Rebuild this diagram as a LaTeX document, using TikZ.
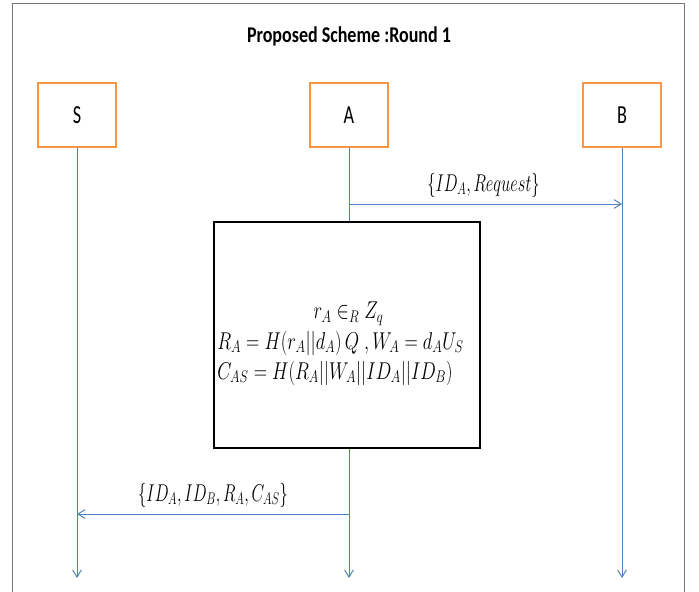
\documentclass[tikz,border=0pt]{standalone}
\usepackage{fontspec}
\setmainfont{Carlito}
\usepackage{amsmath}
\usepackage{graphicx}
\usepackage{tikz}
\usetikzlibrary{arrows.meta, positioning, calc}

\definecolor{boxorange}{RGB}{247,150,70}
\definecolor{lineblue}{RGB}{79,129,189}
\definecolor{framegray}{RGB}{120,120,120}

% narrow, tall lettering as in the reference
\newcommand{\narrow}[2]{\scalebox{#1}[1]{#2}}

\tikzset{
    party/.style={draw=boxorange, line width=1.4pt, fill=white, minimum width=1.95cm, minimum height=1.6cm, font=\fontsize{18.5}{20}\selectfont},
    lifeline/.style={draw=lineblue, line width=0.7pt, -{Straight Barb[length=1.8mm, width=2.2mm]}},
    msg/.style={draw=lineblue, line width=0.7pt, -{Straight Barb[length=1.8mm, width=2.2mm]}},
    calcbox/.style={draw=black, line width=1.6pt, fill=white, minimum width=6.65cm, minimum height=5.65cm},
    calctext/.style={inner sep=0pt, font=\fontsize{17.5}{21.5}\selectfont},
    msglabel/.style={font=\fontsize{16.5}{18}\selectfont}
}

\begin{document}
\begin{tikzpicture}[x=0.025cm, y=-0.025cm]
        \useasboundingbox (0,0) rectangle (699,592);
        % outer frame
        \draw[framegray, line width=0.6pt] (12,592) -- (12,3) -- (684,3) -- (684,592);
        \node[font=\bfseries\fontsize{16}{18}\selectfont] (title) at (349,36) {\narrow{0.8}{Proposed Scheme :Round 1}};

        % parties and lifelines
        \foreach \name/\x in {S/77, A/349, B/622} {
            \node[party] (\name) at (\x,115) {\narrow{0.7}{\name}};
            \coordinate (\name end) at (\x,578);
            \path[lifeline] (\name) -- (\name end);
        }

        % message 1
        \coordinate (m1a) at (349,204);
        \coordinate (m1b) at (622,204);
        \path[msg] (m1a) -- node[msglabel, above=1pt, xshift=-0.05cm] (l1) {\narrow{0.68}{$\{ID_A, Request\}$}} (m1b);

        % computation at A
        \node[calcbox] (calc) at (347,335) {};
        \node[calctext, anchor=west] (calctext) at (217,343) {%
            \begin{tabular}{@{}l@{}}
            \multicolumn{1}{@{}c@{}}{\hspace{0.4cm}\narrow{0.76}{$r_A \in_R Z_q$}}\\
            \narrow{0.76}{$R_A = H(r_A||d_A)\,Q\;,W_A = d_AU_S$}\\
            \narrow{0.76}{$C_{AS} = H(R_A||W_A||ID_A||ID_B)$}
            \end{tabular}};

        % message 2
        \coordinate (m2a) at (349,514);
        \coordinate (m2b) at (77,514);
        \path[msg] (m2a) -- node[msglabel, above=1pt] (l2) {\narrow{0.68}{$\{ID_A, ID_B, R_A, C_{AS}\}$}} (m2b);
    \end{tikzpicture}
\end{document}
